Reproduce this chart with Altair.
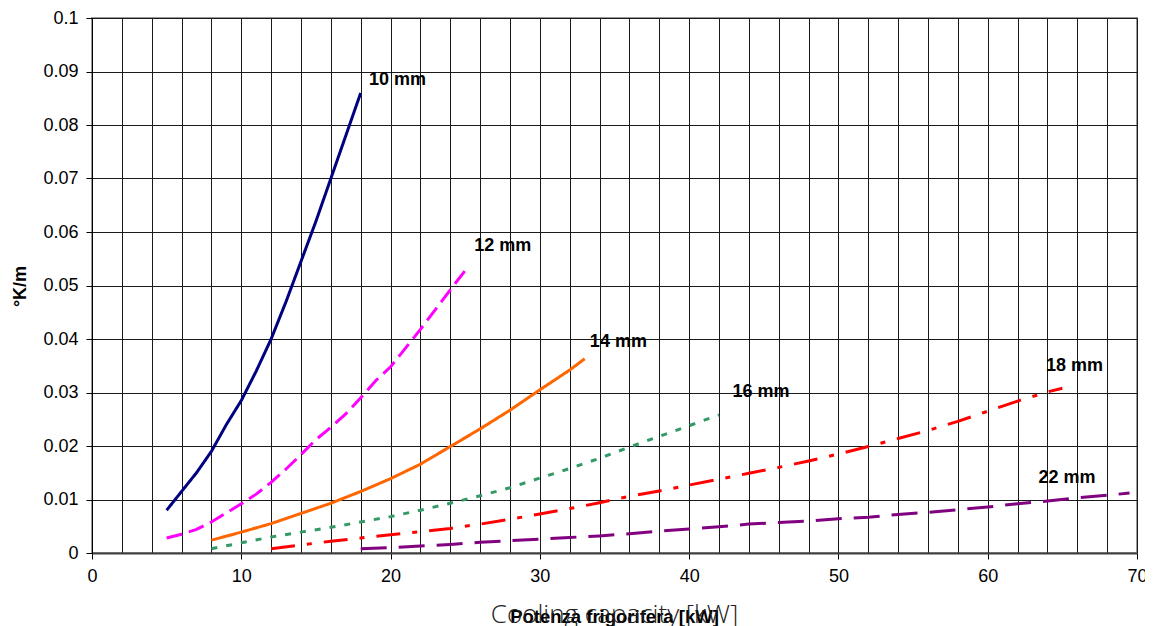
import altair as alt
import pandas as pd

# ---- data ----
series_names = ["10 mm", "12 mm", "14 mm", "16 mm", "18 mm", "22 mm"]

x_10 = [5, 6, 7, 8, 9, 10, 11, 12, 13, 14, 15, 16, 17, 18]
y_10 = [0.008, 0.0115, 0.015, 0.019, 0.024, 0.0285, 0.034, 0.040, 0.047, 0.0545, 0.062, 0.070, 0.078, 0.086]

x_12 = [5, 6, 7, 8, 9, 10, 11, 12, 13, 14, 15, 16, 17, 18, 19, 20, 21, 22, 23, 24, 25]
y_12 = [0.0028, 0.0035, 0.0044, 0.0058, 0.0075, 0.0092, 0.011, 0.0132, 0.0157, 0.0184, 0.0212,
        0.0235, 0.026, 0.029, 0.0322, 0.0348, 0.0383, 0.0418, 0.0455, 0.0492, 0.0528]

x_14 = [8, 10, 12, 14, 16, 18, 20, 22, 24, 26, 28, 30, 32, 33]
y_14 = [0.0024, 0.0039, 0.0055, 0.0074, 0.0093, 0.0115, 0.0139, 0.0166, 0.0199, 0.0232, 0.0267, 0.0305, 0.0342, 0.0363]

x_16 = [8, 10, 12, 14, 16, 18, 20, 22, 24, 26, 28, 30, 32, 34, 36, 38, 40, 42]
y_16 = [0.0008, 0.0019, 0.003, 0.0039, 0.0048, 0.0058, 0.0068, 0.008, 0.0093, 0.0107, 0.0122,
        0.014, 0.0158, 0.0177, 0.0198, 0.0218, 0.0238, 0.0258]

x_18 = [12, 14, 16, 18, 20, 22, 24, 26, 28, 30, 32, 34, 36, 38, 40, 42, 44, 46, 48, 50, 52, 54,
        56, 58, 60, 62, 64, 65]
y_18 = [0.0008, 0.0015, 0.0022, 0.0028, 0.0034, 0.0040, 0.0046, 0.0054, 0.0063, 0.0073, 0.0083,
        0.0094, 0.0106, 0.0116, 0.0127, 0.0138, 0.0149, 0.016, 0.0172, 0.0185, 0.0199, 0.0214,
        0.0229, 0.0246, 0.0265, 0.0284, 0.0301, 0.0308]

x_22 = [18, 20, 22, 24, 26, 28, 30, 32, 34, 36, 38, 40, 42, 44, 46, 48, 50, 52, 54, 56, 58, 60,
        62, 64, 66, 68, 69.5]
y_22 = [0.0008, 0.001, 0.0013, 0.0016, 0.002, 0.0023, 0.0026, 0.0029, 0.0032, 0.0036, 0.0041,
        0.0045, 0.0049, 0.0054, 0.0057, 0.0060, 0.0064, 0.0067, 0.0072, 0.0076, 0.0081, 0.0086,
        0.0092, 0.0097, 0.0103, 0.0108, 0.0112]

label_text = ["10 mm", "12 mm", "14 mm", "16 mm", "18 mm", "22 mm"]
label_x = [18.55, 25.6, 33.35, 42.9, 63.9, 63.4]
label_y = [0.0884, 0.0574, 0.0394, 0.0301, 0.035, 0.014]

x_ticks = list(range(0, 72, 2))
y_ticks = [round(i * 0.01, 2) for i in range(0, 11)]

# ---- styles ----
colors = ["#000080", "#FF00FF", "#FF6600", "#339966", "#FF0000", "#800080"]
dashes = [[1, 0], [16, 7], [1, 0], [6, 9], [24, 12, 5, 12], [26, 12]]
widths = [3, 3, 3, 3.5, 3.5, 6]

rows = []
for name, xs, ys in zip(series_names, [x_10, x_12, x_14, x_16, x_18, x_22],
                        [y_10, y_12, y_14, y_16, y_18, y_22]):
    for xv, yv in zip(xs, ys):
        rows.append({"series": name, "x": xv, "y": yv})
df = pd.DataFrame(rows)
labels_df = pd.DataFrame({"t": label_text, "x": label_x, "y": label_y})

x_enc = alt.X("x:Q",
              scale=alt.Scale(domain=[0, 70], nice=False, zero=False),
              axis=alt.Axis(values=x_ticks, tickCount=40,
                            labelExpr="datum.value == 70 ? '70\u00a0' : (datum.value % 10 == 0 ? datum.label : '')",
                            labelOverlap=False, labelFlush=False,
                            grid=True, gridColor="#1a1a1a", gridWidth=1,
                            tickOpacity={"condition": {"test": "datum.value % 10 == 0", "value": 1}, "value": 0},
                            tickSize=6, tickColor="#000", labelPadding=8,
                            labelFont="Liberation Sans", labelFontSize=18, labelColor="#000",
                            domainColor="#404040", domainWidth=2,
                            title="Potenza frigorifera [kW]",
                            titleFont="Liberation Sans", titleFontSize=18.5, titleFontWeight="bold",
                            titleColor="#000", titleX=522, titleY=69, titleBaseline="alphabetic",
                            titleAlign="center"))
y_enc = alt.Y("y:Q",
              scale=alt.Scale(domain=[0, 0.1], nice=False, zero=True),
              axis=alt.Axis(values=y_ticks, format="~g", tickCount=12,
                            grid=True, gridColor="#1a1a1a", gridWidth=1,
                            tickSize=6, tickColor="#000", labelPadding=8,
                            labelFont="Liberation Sans", labelFontSize=18, labelColor="#000",
                            domainColor="#000", domainWidth=1,
                            title="°K/m", titleFont="Liberation Sans", titleFontSize=18,
                            titleFontWeight="bold", titleColor="#000",
                            titleAngle=270, titleX=-72, titleY=268,
                            titleAlign="center", titleBaseline="middle"))

lines = alt.Chart(df).mark_line(strokeCap="butt").encode(
    x=x_enc,
    y=y_enc,
    color=alt.Color("series:N", scale=alt.Scale(domain=series_names, range=colors), legend=None),
    strokeDash=alt.StrokeDash("series:N", scale=alt.Scale(domain=series_names, range=dashes), legend=None),
    strokeWidth=alt.StrokeWidth("series:N", scale=alt.Scale(domain=series_names, range=widths), legend=None),
    detail="series:N",
)

texts = alt.Chart(labels_df).mark_text(
    align="left", baseline="middle", font="Liberation Sans", fontSize=18,
    fontWeight="bold", color="#000"
).encode(x="x:Q", y="y:Q", text="t:N")

chart = alt.layer(lines, texts).properties(
    width=1045, height=535,
    autosize=alt.AutoSizeParams(type="none"),
    padding={"left": 84, "top": 10, "right": 8, "bottom": 76},
    title=alt.TitleParams("Cooling capacity [kW]", orient="bottom", anchor="middle",
                          font="Open Sans", fontSize=26,
                          fontWeight=300, color="#222", baseline="alphabetic",
                          offset=-3),
).configure_view(stroke="#999999", strokeWidth=2)

chart.save("out.html", embed_options={"renderer": "svg", "actions": False})
